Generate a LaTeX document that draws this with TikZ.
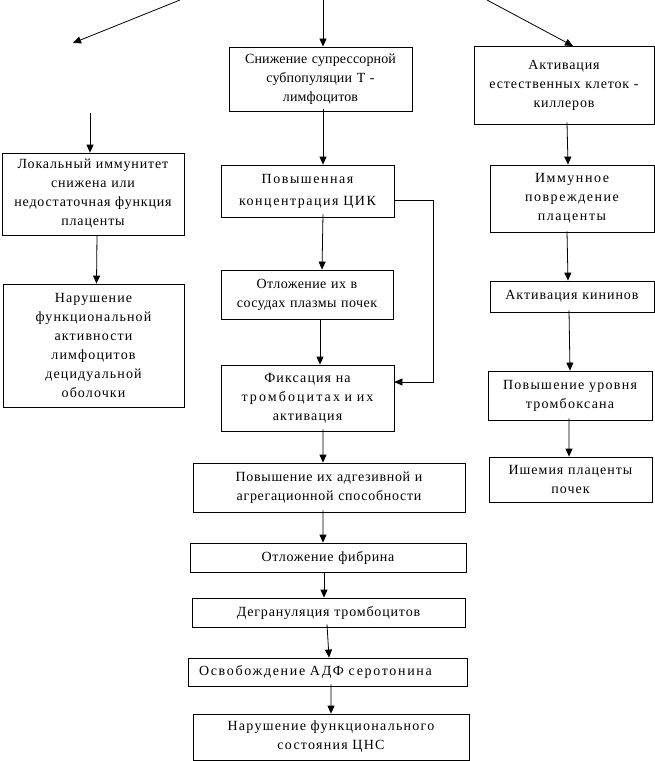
\documentclass[tikz,border=0pt]{standalone}
\usepackage{fontspec}
\setmainfont{Liberation Serif}
\usetikzlibrary{arrows.meta}
\newcommand{\ls}[1]{\addfontfeatures{LetterSpace=#1}}
\begin{document}
\begin{tikzpicture}[x=1bp,y=-1bp,
  box/.style={draw, line width=0.8bp, inner sep=1bp, align=center,
    font=\fontsize{14bp}{19bp}\selectfont},
  arr/.style={line width=0.8bp, -{Triangle[length=8bp,width=7bp]}},
  lin/.style={line width=0.8bp}]
\useasboundingbox (0,0) rectangle (655,761);
% boxes
\node[box, minimum width=183bp, minimum height=64bp, text width=181bp] (b1) at (320.5,79) {\ls{1}Снижение супрессорной\\субпопуляции Т -\\лимфоцитов};
\node[box, minimum width=180bp, minimum height=78bp, text width=178bp] (b2) at (564,85) {\ls{6}Активация\\естественных клеток -\\киллеров};
\node[box, minimum width=182bp, minimum height=82bp, text width=180bp] (l1) at (93,194) {\ls{6}Локальный иммунитет\\снижена или\\недостаточная функция\\плаценты};
\node[box, minimum width=181bp, minimum height=123bp, text width=179bp] (l2) at (93.5,345.5) {\ls{8}Нарушение\\функциональной\\активности\\лимфоцитов\\децидуальной\\оболочки};
\node[box, minimum width=173bp, minimum height=52bp, text width=171bp, font=\fontsize{14bp}{22bp}\selectfont] (m1) at (307.5,191) {\ls{11}Повышенная\\концентрация ЦИК};
\node[box, minimum width=172bp, minimum height=49bp, text width=170bp] (m2) at (307,294.5) {\ls{3}Отложение их в\\сосудах плазмы почек};
\node[box, minimum width=173bp, minimum height=66bp, text width=171bp] (m3) at (307.5,398) {\ls{8}Фиксация на\\{\ls{15}тромбоцитах и их}\\активация};
\node[box, minimum width=272bp, minimum height=49bp, text width=270bp] (m4) at (329,487.5) {\ls{5}Повышение их адгезивной и\\агрегационной способности};
\node[box, minimum width=276bp, minimum height=29bp, text width=274bp] (m5) at (328,557.5) {\ls{5}Отложение фибрина};
\node[box, minimum width=273bp, minimum height=29bp, text width=271bp] (m6) at (328.5,612.5) {\ls{6}Дегрануляция тромбоцитов};
\node[box, minimum width=279bp, minimum height=28bp, text width=277bp, align=left] (m7) at (327.5,672) {\hspace*{10bp}\ls{12}Освобождение АДФ серотонина};
\node[box, minimum width=276bp, minimum height=46bp, text width=274bp] (m8) at (331,737) {\ls{9}Нарушение функционального\\состояния ЦНС};
\node[box, minimum width=164bp, minimum height=67bp, text width=162bp] (r1) at (572,198.5) {\ls{11}Иммунное\\повреждение\\плаценты};
\node[box, minimum width=164bp, minimum height=31bp, text width=162bp] (r2) at (572,296.5) {\ls{7}Активация кининов};
\node[box, minimum width=164bp, minimum height=49bp, text width=162bp] (r3) at (570,395.5) {\ls{9}Повышение уровня\\тромбоксана};
\node[box, minimum width=163bp, minimum height=45bp, text width=161bp] (r4) at (570.5,479.5) {\ls{7}Ишемия плаценты\\почек};
% free ends
\coordinate (tl) at (180,0);
\coordinate (tle) at (73,43);
\coordinate (tm) at (323,0);
\coordinate (tr) at (487,0);
\coordinate (tre) at (573,46);
\coordinate (lt) at (90,113);
% top arrows
\draw[arr] (tl) -- (tle);
\draw[arr] (tm) -- (b1.north -| tm);
\draw[arr] (tr) -- (tre);
% left column
\draw[arr] (lt) -- (l1.north -| lt);
\draw[arr] ([xshift=4bp]l1.south) -- ([xshift=3bp]l2.north);
% middle column
\draw[arr] ([yshift=2bp]b1.south -| tm) -- (m1.north -| tm);
\draw[arr] ([xshift=15.5bp,yshift=3bp]m1.south) -- ([xshift=15bp]m2.north);
\draw[arr] ([xshift=13bp]m2.south) -- ([xshift=12.5bp]m3.north);
\draw[lin] ([yshift=-9bp]m1.east) -- ++(39,0) coordinate (c1) |- (m3.east |- 0,382) coordinate (c2);
\draw[arr] (c1 |- c2) -- (m3.east |- c2);
\draw[arr] ([xshift=15.5bp,yshift=2bp]m3.south) -- ([xshift=-6bp]m4.north);
\draw[arr] ([xshift=-6bp,yshift=2bp]m4.south) -- ([xshift=-5bp]m5.north);
\draw[arr] ([xshift=-4bp]m5.south) -- ([xshift=-4.5bp]m6.north);
\draw[arr] ([xshift=-1.5bp,yshift=3bp]m6.south) -- ([xshift=1.5bp]m7.north);
\draw[arr] ([xshift=3.5bp,yshift=2bp]m7.south) -- (m8.north);
% right column
\draw[arr] ([xshift=3bp,yshift=2bp]b2.south) -- ([xshift=-4bp]r1.north);
\draw[arr] ([xshift=-5bp,yshift=1bp]r1.south) -- ([xshift=-4bp]r2.north);
\draw[arr] ([xshift=-3bp,yshift=2bp]r2.south) -- (r3.north);
\draw[arr] ([xshift=-1bp,yshift=2bp]r3.south) -- ([xshift=-1.5bp]r4.north);
\end{tikzpicture}
\end{document}
